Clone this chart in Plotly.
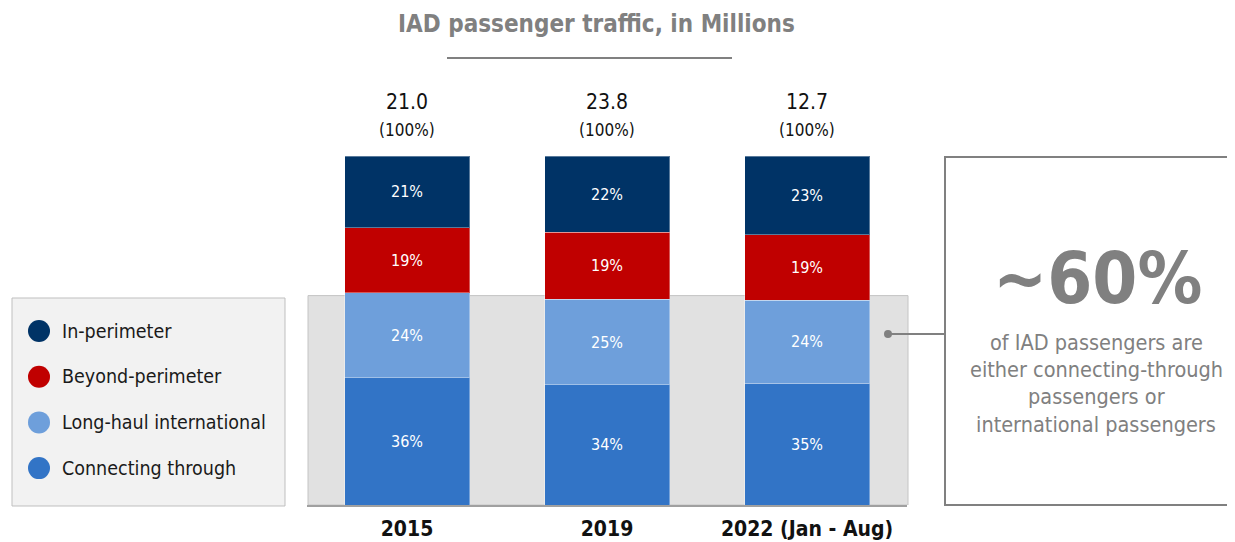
import plotly.graph_objects as go

# IAD passenger traffic mix (share of total, %)
years = ["2015", "2019", "2022 (Jan - Aug)"]
totals = [21.0, 23.8, 12.7]
segments = ["Connecting through", "Long-haul international", "Beyond-perimeter", "In-perimeter"]
shares = {
    "Connecting through": [36.4, 34.4, 34.9],
    "Long-haul international": [24.4, 24.6, 23.8],
    "Beyond-perimeter": [18.6, 19.2, 18.7],
    "In-perimeter": [20.6, 21.8, 22.6],
}
colors = {
    "In-perimeter": "#003366",
    "Beyond-perimeter": "#C00000",
    "Long-haul international": "#6E9FDB",
    "Connecting through": "#3274C6",
}
legend_order = ["In-perimeter", "Beyond-perimeter", "Long-haul international", "Connecting through"]

FONT = "DejaVu Sans Condensed, Noto Sans, sans-serif"
GREY = "#808080"

# page has an 8px body margin, so work in screen pixels and shift
OFF = 8
W, H = 1235, 542
L, R, T, B = 307 - OFF, 907 - OFF, 156 - OFF, 505 - OFF


def px(x):
    return (x - OFF - L) / (R - L)


def py(y):
    return (B - (y - OFF)) / (B - T)


fig = go.Figure()
for s in segments:
    fig.add_trace(go.Bar(
        x=years, y=shares[s], name=s,
        marker=dict(color=colors[s], line=dict(color="rgba(255,255,255,0.35)", width=1)),
        texttemplate="%{y:.0f}%", textposition="inside", insidetextanchor="middle",
        textfont=dict(color="white", size=16, family=FONT),
        showlegend=False,
    ))

shapes = []
annotations = []


def label(x, y, text, size, color, xanchor="center", xref="paper", bold=False):
    annotations.append(dict(x=x, y=y, xref=xref, yref="paper", text=text, showarrow=False,
                            xanchor=xanchor, yanchor="middle",
                            font=dict(size=size, color=color, family=FONT,
                                      weight="bold" if bold else "normal")))


# grey highlight behind the two lower segments
shapes.append(dict(type="rect", xref="paper", yref="y", x0=px(308), x1=px(908), y0=0, y1=60,
                   fillcolor="#E1E1E1", line=dict(color="#C4C4C4", width=1), layer="below"))

# totals above bars (x given as category index)
for i, t in enumerate(totals):
    label(i, py(102), f"{t:.1f}", 21, "#111", xref="x")
    label(i, py(130), "(100%)", 17, "#111", xref="x")

# title + underline
label(px(596), py(24), "IAD passenger traffic, in Millions", 24, GREY, bold=True)
shapes.append(dict(type="line", xref="paper", yref="paper", x0=px(447), x1=px(732),
                   y0=py(58), y1=py(58), line=dict(color=GREY, width=2)))

# legend box
shapes.append(dict(type="rect", xref="paper", yref="paper", x0=px(12), x1=px(285),
                   y0=py(298), y1=py(506), fillcolor="#F2F2F2", line=dict(color="#BFBFBF", width=1)))
for i, s in enumerate(legend_order):
    cy = 331 + i * 45.7
    shapes.append(dict(type="circle", xref="paper", yref="paper", x0=px(28), x1=px(50),
                       y0=py(cy + 11), y1=py(cy - 11), fillcolor=colors[s], line=dict(width=0)))
    label(px(60), py(cy), s, 19.5, "#1A1A1A", xanchor="left")

# callout
shapes.append(dict(type="rect", xref="paper", yref="paper", x0=px(945), x1=px(1260),
                   y0=py(505), y1=py(157), line=dict(color=GREY, width=2)))
shapes.append(dict(type="line", xref="paper", yref="paper", x0=px(888), x1=px(945),
                   y0=py(334), y1=py(334), line=dict(color=GREY, width=2)))
shapes.append(dict(type="circle", xref="paper", yref="paper", x0=px(884), x1=px(892),
                   y0=py(338), y1=py(330), fillcolor=GREY, line=dict(width=0)))
label(px(1097), py(278), "~60%", 72, GREY, bold=True)
callout_lines = ["of IAD passengers are", "either connecting-through", "passengers or",
                 "international passengers"]
for i, line in enumerate(callout_lines):
    label(px(1096), py(342 + i * 27.4), line, 21.5, GREY)

fig.update_layout(
    width=W, height=H,
    barmode="stack", bargap=0.375,
    margin=dict(l=L, r=W - R, t=T, b=H - B),
    plot_bgcolor="white", paper_bgcolor="white",
    shapes=shapes, annotations=annotations,
    uniformtext=dict(minsize=10, mode="show"),
    xaxis=dict(type="category", range=[-0.5, 2.5], showline=True, linecolor="#A0A0A0",
               linewidth=2, ticks="", ticklabelstandoff=4, automargin=False,
               tickfont=dict(size=21, color="#111", family=FONT, weight="bold")),
    yaxis=dict(range=[0, 100], visible=False, showgrid=False, automargin=False),
)

fig.write_html("out.html")
